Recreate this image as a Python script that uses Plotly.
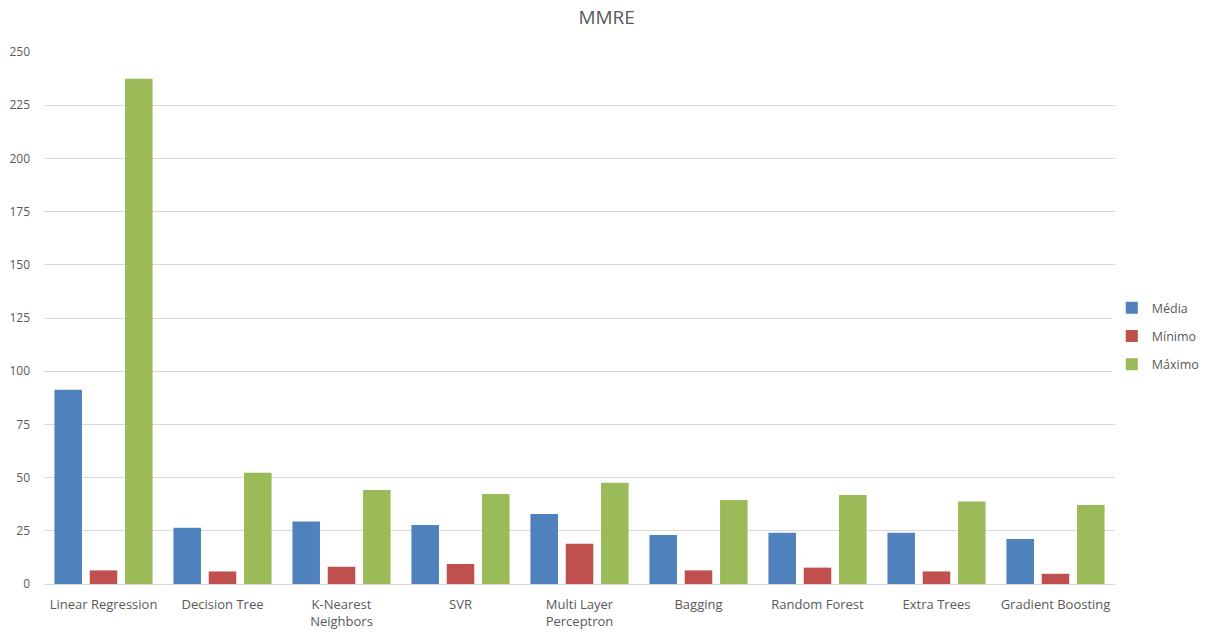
import plotly.graph_objects as go

categories = ["Linear Regression", "Decision Tree", "K-Nearest<br>Neighbors", "SVR",
              "Multi Layer<br>Perceptron", "Bagging", "Random Forest", "Extra Trees",
              "Gradient Boosting"]
media = [91.3, 26.4, 29.4, 27.7, 32.9, 23.0, 24.1, 24.1, 21.1]
minimo = [6.4, 5.9, 8.1, 9.4, 18.9, 6.4, 7.7, 5.9, 4.8]
maximo = [237.4, 52.3, 44.2, 42.3, 47.6, 39.5, 41.8, 38.8, 37.1]
y_ticks = [0, 25, 50, 75, 100, 125, 150, 175, 200, 225, 250]

series = [("Média", media, "#4f81bd"), ("Mínimo", minimo, "#c0504d"), ("Máximo", maximo, "#9bbb59")]

fig = go.Figure()
for name, vals, col in series:
    fig.add_trace(go.Bar(x=categories, y=vals, name=name, legendgroup=name,
                         marker=dict(color=col, line=dict(width=0))))

font = "Open Sans, Liberation Sans, sans-serif"
fig.update_layout(
    width=1206, height=633,
    paper_bgcolor="white", plot_bgcolor="white",
    margin=dict(l=44, r=91, t=52, b=49, autoexpand=False),
    title=dict(text="MMRE", x=0.503, xanchor="center", y=0.972, yanchor="middle",
               font=dict(family=font, size=19, color="#595959")),
    barmode="group", bargap=0.11, bargroupgap=0.22,
    font=dict(family=font, size=12, color="#595959"),
    legend=dict(x=0.997, xanchor="left", y=0.466, yanchor="middle",
                font=dict(family=font, size=12.5, color="#595959"),
                itemwidth=30, tracegroupgap=9, traceorder="grouped"),
    xaxis=dict(showgrid=False, showline=True, linecolor="#d9d9d9", linewidth=1,
               ticks="", tickfont=dict(size=13, color="#595959"), ticklabelstandoff=8),
    yaxis=dict(range=[0, 250], tickvals=y_ticks, showgrid=True, gridcolor="#d9d9d9",
               gridwidth=1, zeroline=False, showline=False, ticks="",
               tickfont=dict(size=12, color="#595959"), ticklabelstandoff=13),
)
fig.write_html("out.html")
